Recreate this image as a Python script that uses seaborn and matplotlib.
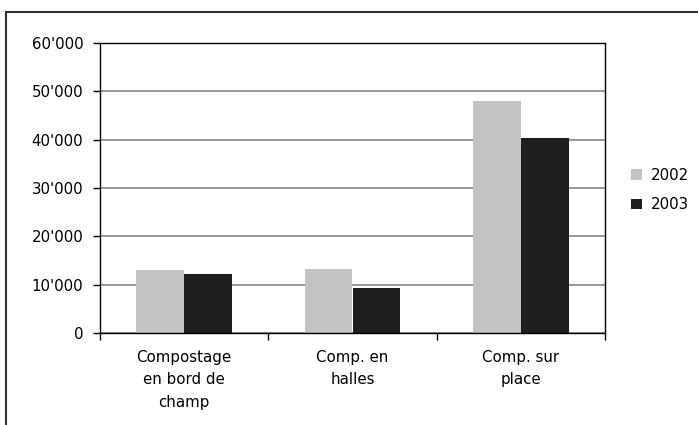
import matplotlib
matplotlib.use("Agg")
import matplotlib.pyplot as plt
import matplotlib.patches as mpatches
from matplotlib.ticker import FuncFormatter, FixedLocator
import seaborn as sns
import pandas as pd

categories = ["Compostage\nen bord de\nchamp", "Comp. en\nhalles", "Comp. sur\nplace"]
years = ["2002", "2003"]
values_2002 = [13000, 13200, 48000]
values_2003 = [12200, 9300, 40300]
y_ticks = [0, 10000, 20000, 30000, 40000, 50000, 60000]

df = pd.DataFrame({
    "cat": categories * 2,
    "year": [years[0]] * 3 + [years[1]] * 3,
    "value": values_2002 + values_2003,
})

sns.set_style("white")
plt.rcParams["font.family"] = ["DejaVu Sans"]
plt.rcParams["text.color"] = "#000000"
plt.rcParams["xtick.color"] = "#000000"
plt.rcParams["ytick.color"] = "#000000"
plt.rcParams["xtick.labelcolor"] = "#000000"
plt.rcParams["ytick.labelcolor"] = "#000000"

fig = plt.figure(figsize=(6.98, 4.25), dpi=100)
ax = fig.add_axes([100 / 698, (425 - 333) / 425, 505 / 698, 290 / 425])

sns.barplot(data=df, x="cat", y="value", hue="year", order=categories,
            hue_order=years, palette=["#c3c3c3", "#1e1e1e"], width=0.57,
            gap=0, saturation=1, linewidth=0, ax=ax, zorder=3, legend=True)

ax.set_ylim(0, 60000)
ax.set_xlim(-0.5, 2.5)
ax.yaxis.set_major_locator(FixedLocator(y_ticks))
ax.yaxis.set_major_formatter(FuncFormatter(lambda v, p: "0" if v == 0 else f"{int(v/1000)}'000"))
ax.grid(axis="y", color="#7a7a7a", linewidth=1.1, zorder=0)
ax.set_axisbelow(True)
ax.set_xlabel("")
ax.set_ylabel("")

for s in ax.spines.values():
    s.set_visible(True)
    s.set_color("#000000")
    s.set_linewidth(1.0)
    s.set_zorder(5)

ax.tick_params(axis="y", which="major", direction="out", length=5, width=1,
               color="#000000", labelsize=10.8, pad=7, left=True, labelcolor="#000000")
ax.set_xticks([0, 1, 2])
ax.set_xticklabels(categories, fontsize=10.8, linespacing=1.65, color="#000000")
ax.tick_params(axis="x", which="major", length=0, pad=12)
ax.set_xticks([-0.5, 0.5, 1.5, 2.5], minor=True)
ax.tick_params(axis="x", which="minor", direction="out", length=5, width=1,
               color="#000000", bottom=True)

leg = ax.legend(loc="center left", bbox_to_anchor=((631 - 100) / 505, (333 - 190) / 290),
                frameon=False, fontsize=10.8, handlelength=0.7, handleheight=0.7,
                handletextpad=0.6, labelspacing=0.95, borderaxespad=0, borderpad=0)
for t in leg.get_texts():
    t.set_color("#000000")

border = mpatches.Rectangle((6 / 698, -0.2), 2, 1.2 - 12 / 425,
                            transform=fig.transFigure, fill=False,
                            edgecolor="#333333", linewidth=1.5, clip_on=False)
fig.patches.append(border)

fig.savefig("out.png", dpi=100)
